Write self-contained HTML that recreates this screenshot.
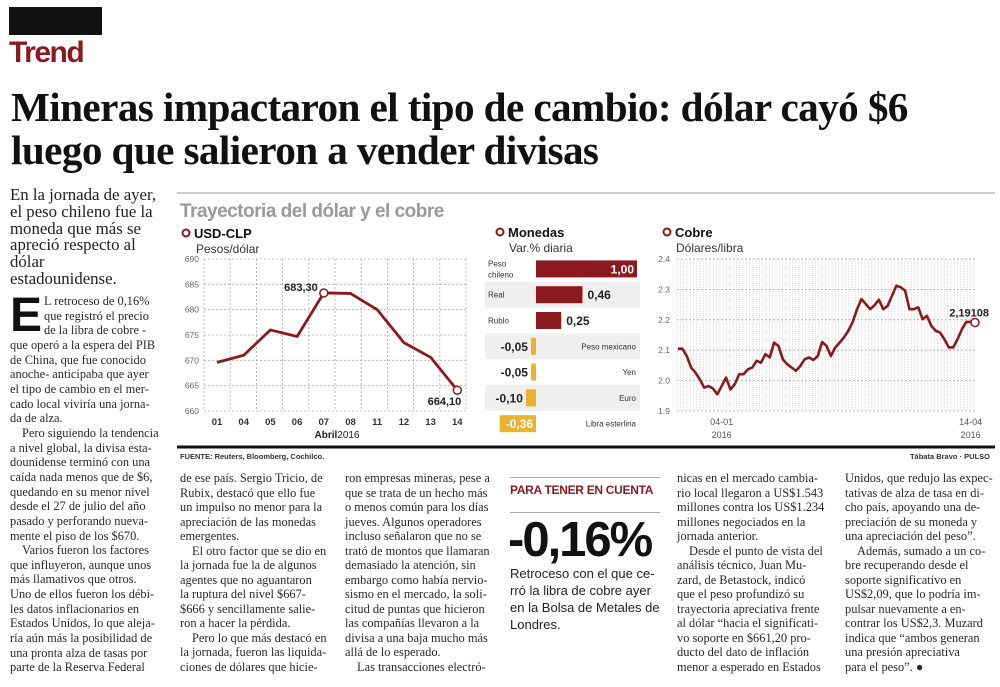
<!DOCTYPE html>
<html><head><meta charset="utf-8">
<style>
body{margin:0;width:1000px;height:687px;background:#fff;position:relative;overflow:hidden;font-family:"Liberation Serif",serif;color:#222}
.abs{position:absolute}
.col{position:absolute;font-size:12.4px;line-height:14.5px;white-space:nowrap;color:#2a2a2a}
.ind{padding-left:12px}
</style></head><body>
<div class="abs" style="left:9px;top:7px;width:93px;height:28px;background:#111"></div>
<div class="abs" style="left:9px;top:36px;font:bold 30px 'Liberation Sans',sans-serif;color:#8b1a1e;letter-spacing:-1.5px">Trend</div>
<div class="abs" style="left:11px;top:86px;font:bold 41.2px/43px 'Liberation Serif',serif;color:#111;letter-spacing:-0.6px;white-space:nowrap">Mineras impactaron el tipo de cambio: dólar cayó $6<br>luego que salieron a vender divisas</div>
<div class="abs" style="left:10px;top:187px;font-size:16.8px;line-height:16.8px;color:#222;white-space:nowrap">En la jornada de ayer,<br>el peso chileno fue la<br>moneda que más se<br>apreció respecto al<br>dólar<br>estadounidense.</div>
<div class="abs" style="left:10px;top:295px;width:32px;height:42px;font:bold 48px/42px 'Liberation Sans',sans-serif;color:#111">E</div>
<div class="col" style="left:10px;top:294px;line-height:14.65px">
<div style="padding-left:34px">L retroceso de 0,16%<br>que registró el precio<br>de la libra de cobre -</div>que operó a la espera del PIB<br>de China, que fue conocido<br>anoche-  anticipaba que ayer<br>el tipo de cambio en el mer-<br>cado local viviría una jorna-<br>da de alza.<br><span class="ind">Pero siguiendo la tendencia</span><br>a nivel global, la divisa esta-<br>dounidense terminó con una<br>caída nada menos que de $6,<br>quedando en su menor nivel<br>desde el 27 de julio del año<br>pasado y perforando nueva-<br>mente el piso de los $670.<br><span class="ind">Varios fueron los factores</span><br>que influyeron, aunque unos<br>más llamativos que otros.<br>Uno de ellos fueron los débi-<br>les datos inflacionarios en<br>Estados Unidos, lo que aleja-<br>ría aún más la posibilidad de<br>una pronta alza de tasas por<br>parte de la Reserva Federal</div>

<svg class="abs" style="left:0;top:0" width="1000" height="687">
<line x1="177" y1="193" x2="995" y2="193" stroke="#999" stroke-width="1"/>
<text x="180" y="217" font-family="Liberation Sans" font-weight="bold" font-size="19" fill="#9a9a9a" letter-spacing="-0.5">Trayectoria del dólar y el cobre</text>
<line x1="177" y1="447" x2="995" y2="447" stroke="#111" stroke-width="3"/>
<text x="180" y="459" font-family="Liberation Sans" font-weight="bold" font-size="7.5" fill="#333">FUENTE: Reuters, Bloomberg, Cochilco.</text>
<text x="990" y="459" text-anchor="end" font-family="Liberation Sans" font-weight="bold" font-size="7.5" fill="#333">Tábata Bravo  · PULSO</text>
<g id="usd"></g>
<g id="mon"></g>
<g id="cob"></g>
</svg>

<div class="col" style="left:180px;top:471px">de ese país. Sergio Tricio, de<br>Rubix, destacó que ello fue<br>un impulso no menor para la<br>apreciación de las monedas<br>emergentes.<br><span class="ind">El otro factor que se dio en</span><br>la jornada fue la de algunos<br>agentes que no aguantaron<br>la ruptura del nivel $667-<br>$666 y sencillamente salie-<br>ron a hacer la pérdida.<br><span class="ind">Pero lo que más destacó en</span><br>la jornada, fueron las liquida-<br>ciones de dólares que hicie-</div>
<div class="col" style="left:345px;top:471px">ron empresas mineras, pese a<br>que se trata de un hecho más<br>o menos común para los días<br>jueves. Algunos operadores<br>incluso señalaron que no se<br>trató de montos que llamaran<br>demasiado la atención, sin<br>embargo como había nervio-<br>sismo en el mercado, la soli-<br>citud de puntas que hicieron<br>las compañías llevaron a la<br>divisa a una baja mucho más<br>allá de lo esperado.<br><span class="ind">Las transacciones electró-</span></div>
<div class="abs" style="left:510px;top:477px;width:150px;height:1px;background:#aaa"></div>
<div class="abs" style="left:510px;top:483px;font:bold 12px 'Liberation Sans',sans-serif;color:#8b1a1e;letter-spacing:-0.3px">PARA TENER EN CUENTA</div>
<div class="abs" style="left:510px;top:512px;width:150px;height:1px;background:#aaa"></div>
<div class="abs" style="left:508px;top:512px;font:bold 49px 'Liberation Sans',sans-serif;color:#111;letter-spacing:-2px">-0,16%</div>
<div class="abs" style="left:510px;top:565px;font:13px/17px 'Liberation Sans',sans-serif;color:#222">Retroceso con el que ce-<br>rró la libra de cobre ayer<br>en la Bolsa de Metales de<br>Londres.</div>
<div class="col" style="left:677px;top:471px">nicas en el mercado cambia-<br>rio local llegaron a US$1.543<br>millones contra los US$1.234<br>millones negociados en la<br>jornada anterior.<br><span class="ind">Desde el punto de vista del</span><br>análisis técnico, Juan Mu-<br>zard, de Betastock, indicó<br>que el peso profundizó su<br>trayectoria apreciativa frente<br>al dólar  “hacia el significati-<br>vo soporte en $661,20 pro-<br>ducto del dato de inflación<br>menor a esperado en Estados</div>
<div class="col" style="left:845px;top:471px">Unidos, que redujo las expec-<br>tativas de alza de tasa en di-<br>cho país, apoyando una de-<br>preciación de su moneda y<br>una apreciación del peso”.<br><span class="ind">Además, sumado a un co-</span><br>bre recuperando desde el<br>soporte significativo en<br>US$2,09, que lo podría im-<br>pulsar nuevamente a en-<br>contrar los US$2,3. Muzard<br>indica que “ambos generan<br>una presión apreciativa<br>para el peso”. ●</div>

<script>
const usdDays=["01","04","05","06","07","08","11","12","13","14"];
const usdValues=[669.6,671.0,676.0,674.7,683.3,683.2,680.0,673.5,670.6,664.1];
const usdTicks=[660,665,670,675,680,685,690];
const monNames=["Peso\nchileno","Real","Rublo","Peso mexicano","Yen","Euro","Libra esterlina"];
const monValues=[1.00,0.46,0.25,-0.05,-0.05,-0.10,-0.36];
const monLabels=["1,00","0,46","0,25","-0,05","-0,05","-0,10","-0,36"];
const cobValues=[2.105,2.105,2.081,2.043,2.026,2.004,1.977,1.982,1.974,1.955,1.982,2.010,1.971,1.988,2.021,2.021,2.037,2.043,2.065,2.059,2.087,2.076,2.125,2.114,2.070,2.054,2.043,2.032,2.048,2.070,2.076,2.068,2.081,2.127,2.114,2.081,2.109,2.125,2.142,2.164,2.193,2.235,2.268,2.252,2.235,2.248,2.266,2.235,2.246,2.279,2.312,2.307,2.296,2.235,2.235,2.241,2.202,2.213,2.180,2.164,2.158,2.136,2.109,2.109,2.136,2.169,2.193,2.193,2.191];
const cobTicks=["1.9","2.0","2.1","2.2","2.3","2.4"];
const cobTickVals=[1.9,2.0,2.1,2.2,2.3,2.4];
const cobXLabels=["04-01","14-04"];
const cobXIdx=[10,67];

const NS="http://www.w3.org/2000/svg";
function mk(parent,tag,attrs,txt){const e=document.createElementNS(NS,tag);for(const k in attrs)e.setAttribute(k,attrs[k]);if(txt!==undefined)e.textContent=txt;parent.appendChild(e);return e;}
const RED="#8b1a1e";

(function(){
const g=document.getElementById('usd');
const x0=204,x1=466,yT=259,yB=411;
const sx=i=>217+i*26.7;
const sy=v=>yB-(v-660)/(690-660)*(yB-yT);
let t;
t=mk(g,'circle',{cx:186,cy:233,r:3.5,fill:'none',stroke:RED,'stroke-width':2});

t=mk(g,'text',{x:194,y:238,'font-family':'Liberation Sans','font-weight':'bold','font-size':13,fill:'#111'},'USD-CLP');

t=mk(g,'text',{x:196,y:253,'font-family':'Liberation Sans','font-size':12,fill:'#333'},'Pesos/dólar');

usdTicks.forEach(v=>{
  const l=mk(g,'line',{x1:x0,x2:x1,y1:sy(v),y2:sy(v),stroke:'#aaa','stroke-width':0.8,'stroke-dasharray':'2,2'});
  
  const tt=mk(g,'text',{x:199,y:sy(v)+3,'text-anchor':'end','font-family':'Liberation Sans','font-size':8.5,fill:'#666'},v);
  
});
for(let i=0;i<=usdDays.length;i++){
  const xx=x0+i*(x1-x0)/usdDays.length;
  const l=mk(g,'line',{x1:xx,x2:xx,y1:yT,y2:yB,stroke:'#aaa','stroke-width':0.8,'stroke-dasharray':'2,2'});
  
}
usdDays.forEach((d,i)=>{
  const tt=mk(g,'text',{x:sx(i),y:425,'text-anchor':'middle','font-family':'Liberation Sans','font-weight':'bold','font-size':9.5,fill:'#333'},d);
  
});
t=mk(g,'text',{x:337,y:438,'text-anchor':'middle','font-family':'Liberation Sans','font-size':10,fill:'#222'});
t.innerHTML='<tspan font-weight="bold">Abril</tspan>2016';

const p=mk(g,'polyline',{points:usdValues.map((v,i)=>sx(i)+','+sy(v)).join(' '),fill:'none',stroke:RED,'stroke-width':2.8,'stroke-linejoin':'round'});

[4,9].forEach(i=>{
  const c=mk(g,'circle',{cx:sx(i),cy:sy(usdValues[i]),r:4,fill:'#fff',stroke:RED,'stroke-width':1.5});
  
});
t=mk(g,'text',{x:sx(4)-6,y:sy(usdValues[4])-2,'text-anchor':'end','font-family':'Liberation Sans','font-weight':'bold','font-size':11,fill:'#222'},usdValues[4].toFixed(2).replace('.',','));

t=mk(g,'text',{x:sx(9)+4,y:sy(usdValues[9])+15,'text-anchor':'end','font-family':'Liberation Sans','font-weight':'bold','font-size':11,fill:'#222'},usdValues[9].toFixed(2).replace('.',','));

})();

(function(){
const g=document.getElementById('mon');
const zero=536,scale=101,top=256,pitch=25.8;
let t;
t=mk(g,'circle',{cx:500,cy:232,r:3.5,fill:'none',stroke:RED,'stroke-width':2});

t=mk(g,'text',{x:508,y:237,'font-family':'Liberation Sans','font-weight':'bold','font-size':13,fill:'#111'},'Monedas');

t=mk(g,'text',{x:509,y:252,'font-family':'Liberation Sans','font-size':12,fill:'#333'},'Var.% diaria');

monValues.forEach((v,i)=>{
  const y=top+i*pitch, cy=y+pitch/2;
  if(i%2===1){const r=mk(g,'rect',{x:485,y:y,width:155,height:pitch,fill:'#efefef'});}
  const w=Math.abs(v)*scale;
  const pos=v>=0;
  const b=mk(g,'rect',{x:pos?zero:zero-w,y:cy-8.5,width:Math.max(w,1),height:17,fill:pos?RED:'#e8b32e'});
  
  const nm=monNames[i].split('\n');
  if(pos){
    nm.forEach((s,k)=>{const tt=mk(g,'text',{x:488,y:cy+3-(nm.length-1)*5.5+k*11,'font-family':'Liberation Sans','font-size':8,fill:'#333'},s);});
    const inside=w>60;
    const lv=mk(g,'text',{x:inside?zero+w-3:zero+w+5,y:cy+4.5,'text-anchor':inside?'end':'start','font-family':'Liberation Sans','font-weight':'bold','font-size':12,fill:inside?'#fff':'#222'},monLabels[i]);
    
  }else{
    const tt=mk(g,'text',{x:636,y:cy+3,'text-anchor':'end','font-family':'Liberation Sans','font-size':8,fill:'#333'},monNames[i]);
    
    const inside=w>25;
    const lv=mk(g,'text',{x:inside?zero-3:zero-w-3,y:cy+4.5,'text-anchor':'end','font-family':'Liberation Sans','font-weight':'bold','font-size':12,fill:inside?'#fff':'#222'},monLabels[i]);
    
  }
});
})();

(function(){
const g=document.getElementById('cob');
const x0=677,x1=977,yT=259,yB=411;
const sx=i=>678+i*(975-678)/(cobValues.length-1);
const sy=v=>yB-(v-1.9)/(2.4-1.9)*(yB-yT);
let t;
t=mk(g,'circle',{cx:667,cy:232,r:3.5,fill:'none',stroke:RED,'stroke-width':2});

t=mk(g,'text',{x:675,y:237,'font-family':'Liberation Sans','font-weight':'bold','font-size':13,fill:'#111'},'Cobre');

t=mk(g,'text',{x:676,y:252,'font-family':'Liberation Sans','font-size':12,fill:'#333'},'Dólares/libra');

for(let xx=x0;xx<=x1;xx+=3.3){
  const l=mk(g,'line',{x1:xx,x2:xx,y1:yT,y2:yB,stroke:'#c8c8c8','stroke-width':0.6,'stroke-dasharray':'1,1'});
  
}
cobTickVals.forEach((v,i)=>{
  const l=mk(g,'line',{x1:x0,x2:x1,y1:sy(v),y2:sy(v),stroke:'#aaa','stroke-width':0.8,'stroke-dasharray':'2,2'});
  
  const tt=mk(g,'text',{x:670,y:sy(v)+3,'text-anchor':'end','font-family':'Liberation Sans','font-size':8.5,fill:'#666'},cobTicks[i]);
  
});
cobXLabels.forEach((s,k)=>{
  const xx=sx(cobXIdx[k]);
  const a=mk(g,'text',{x:xx,y:425,'text-anchor':'middle','font-family':'Liberation Sans','font-size':9,fill:'#555'},s);
  
  const b=mk(g,'text',{x:xx,y:438,'text-anchor':'middle','font-family':'Liberation Sans','font-size':9,fill:'#555'},'2016');
  
});
const p=mk(g,'polyline',{points:cobValues.map((v,i)=>sx(i)+','+sy(v)).join(' '),fill:'none',stroke:RED,'stroke-width':2.6,'stroke-linejoin':'round'});

const n=cobValues.length-1;
const c=mk(g,'circle',{cx:sx(n),cy:sy(cobValues[n]),r:4,fill:'#fff',stroke:RED,'stroke-width':1.5});

t=mk(g,'text',{x:sx(n)+14,y:sy(cobValues[n])-6,'text-anchor':'end','font-family':'Liberation Sans','font-weight':'bold','font-size':11,fill:'#222'},'2,19108');

})();
</script>
</body></html>
